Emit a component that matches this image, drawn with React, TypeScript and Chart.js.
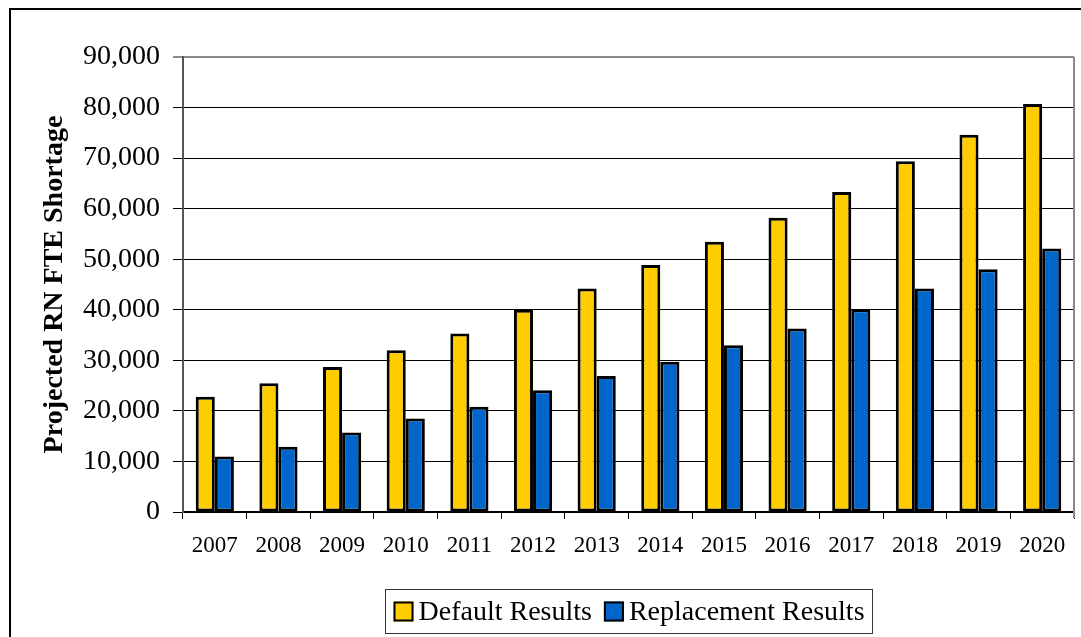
import React, { useEffect, useRef } from "react";
import { Chart, registerables } from "chart.js";

Chart.register(...registerables);

const categories = ["2007", "2008", "2009", "2010", "2011", "2012", "2013", "2014", "2015", "2016", "2017", "2018", "2019", "2020"];
const defaultResults = [22800, 25450, 28700, 32000, 35300, 40000, 44200, 48850, 53450, 58200, 63300, 69400, 74600, 80700];
const replacementResults = [11000, 12900, 15750, 18500, 20800, 24100, 26900, 29700, 33000, 36300, 40100, 44200, 48000, 52100];
const seriesNames = ["Default Results", "Replacement Results"];
const yAxisTitle = "Projected RN FTE Shortage";

const SERIF = '"Liberation Serif", "Times New Roman", serif';

const framePlugin = {
  id: "frame",
  beforeDraw(chart: any) {
    const ctx = chart.ctx;
    ctx.save();
    ctx.fillStyle = "#fff";
    ctx.fillRect(0, 0, chart.width, chart.height);
    ctx.strokeStyle = "#000";
    ctx.lineWidth = 2;
    ctx.strokeRect(10, 9, chart.width + 100, chart.height + 100);
    ctx.restore();
  },
  afterDraw(chart: any) {
    const ctx = chart.ctx;
    const a = chart.chartArea;
    ctx.save();
    // right plot border
    ctx.strokeStyle = "#8a8a8a";
    ctx.lineWidth = 2;
    ctx.beginPath();
    ctx.moveTo(a.right, a.top);
    ctx.lineTo(a.right, a.bottom + 6);
    ctx.stroke();

    // legend
    const ds = chart.data.datasets;
    ctx.font = `28px ${SERIF}`;
    const pad = 8, sw = 20, gap = 5, itemGap = 12;
    const widths = ds.map((d: any) => ctx.measureText(d.label).width);
    let total = pad * 2;
    widths.forEach((w: number, i: number) => {
      total += sw + gap + w + (i < widths.length - 1 ? itemGap : 0);
    });
    const cx = (a.left + a.right) / 2;
    const bx = Math.round(cx - total / 2) + 0.5;
    const by = 589.5;
    const bh = 44;
    ctx.strokeStyle = "#333";
    ctx.lineWidth = 1;
    ctx.strokeRect(bx, by, total, bh);
    let x = bx + pad;
    const midY = by + bh / 2;
    ds.forEach((d: any, i: number) => {
      ctx.fillStyle = d.backgroundColor;
      ctx.fillRect(x, midY - sw / 2, sw, sw);
      ctx.strokeStyle = "#000";
      ctx.lineWidth = 2;
      ctx.strokeRect(x + 1, midY - sw / 2 + 1, sw - 2, sw - 2);
      ctx.fillStyle = "#000";
      ctx.textBaseline = "middle";
      ctx.textAlign = "left";
      ctx.fillText(d.label, x + sw + gap, midY + 1);
      x += sw + gap + widths[i] + itemGap;
    });
    ctx.restore();
  },
};

export default function App() {
  const ref = useRef<HTMLCanvasElement | null>(null);

  useEffect(() => {
    if (!ref.current) return;
    const chart = new Chart(ref.current, {
      type: "bar",
      data: {
        labels: categories,
        datasets: [
          {
            label: seriesNames[0],
            data: defaultResults,
            backgroundColor: "#FFCC00",
            borderColor: "#000",
            borderWidth: 3,
            borderSkipped: false,
            categoryPercentage: 0.6,
            barPercentage: 1,
          },
          {
            label: seriesNames[1],
            data: replacementResults,
            backgroundColor: "#0066CC",
            borderColor: "#000",
            borderWidth: 3,
            borderSkipped: false,
            categoryPercentage: 0.6,
            barPercentage: 1,
          },
        ],
      },
      options: {
        responsive: false,
        animation: false,
        layout: { padding: { left: 10, right: 7, top: 57, bottom: 80 } },
        plugins: {
          legend: { display: false },
          tooltip: { enabled: false },
        },
        scales: {
          x: {
            grid: {
              offset: true,
              drawOnChartArea: false,
              drawTicks: true,
              tickLength: 7,
              color: "#000",
            },
            border: { display: true, color: "#000", width: 1.5 },
            ticks: {
              color: "#000",
              font: { family: SERIF, size: 23 },
              padding: 13,
              maxRotation: 0,
              autoSkip: false,
            },
            afterFit: (s: any) => {
              s.height = 45;
            },
          },
          y: {
            min: 0,
            max: 90000,
            grid: {
              drawTicks: true,
              tickLength: 10,
              color: (c: any) => (c.tick && c.tick.value === 90000 ? "#8a8a8a" : "#000"),
              lineWidth: (c: any) => (c.tick && c.tick.value === 90000 ? 2 : 1),
            },
            border: { display: true, color: "#555", width: 2 },
            ticks: {
              stepSize: 10000,
              color: "#000",
              font: { family: SERIF, size: 28 },
              padding: 13,
              callback: (v: any) => Number(v).toLocaleString("en-US"),
            },
            title: {
              display: true,
              text: yAxisTitle,
              color: "#000",
              font: { family: SERIF, size: 28, weight: "bold" },
              padding: { top: 28, bottom: 0 },
            },
            afterFit: (s: any) => {
              s.width = 173;
            },
          },
        },
      },
      plugins: [framePlugin],
    });
    return () => chart.destroy();
  }, []);

  return (
    <div style={{ position: "absolute", left: 0, top: 0, width: 1081, height: 637, background: "#fff" }}>
      <canvas ref={ref} width={1081} height={637} style={{ display: "block", width: 1081, height: 637 }} />
    </div>
  );
}
